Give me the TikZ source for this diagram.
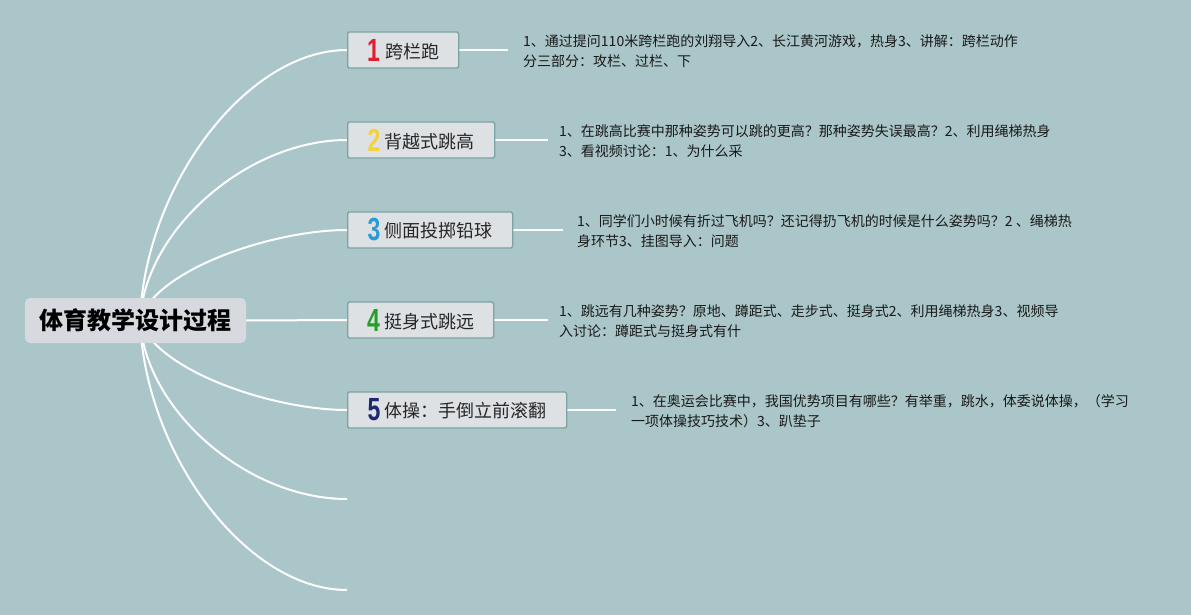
\documentclass[tikz,border=0pt]{standalone}
\usepackage{fontspec}
\usepackage{graphicx}
\setmainfont{Noto Sans CJK SC}
\newfontfamily\numfont{Liberation Sans}
\usetikzlibrary{backgrounds}
\definecolor{bgc}{RGB}{170,198,200}
\definecolor{boxfill}{RGB}{221,225,228}
\definecolor{boxline}{RGB}{123,163,163}
\definecolor{rootfill}{RGB}{214,218,223}
\definecolor{nred}{RGB}{224,30,48}
\definecolor{nyellow}{RGB}{245,210,58}
\definecolor{nblue}{RGB}{40,154,216}
\definecolor{ngreen}{RGB}{36,160,40}
\definecolor{nnavy}{RGB}{30,40,110}
\newcommand{\bnum}[2]{\raisebox{-3pt}{\textcolor{#1}{\scalebox{0.72}[1]{\fontsize{32}{32}\selectfont\numfont\bfseries #2}}}}
\tikzset{
  rootbox/.style={fill=rootfill, rounded corners=5pt, minimum width=221pt, minimum height=45pt, inner sep=0pt,
    font=\fontsize{24}{24}\selectfont\bfseries, text=black},
  topicbox/.style={fill=boxfill, draw=boxline, line width=1.3pt, rounded corners=1.5pt, minimum height=36pt,
    inner sep=0pt, anchor=west, font=\fontsize{18}{18}\selectfont, text=black!85},
  desc/.style={anchor=west, align=left, inner sep=0pt, font=\fontsize{14}{20}\selectfont, text=black!90},
  branch/.style={draw=white, line width=2pt},
  stub/.style={draw=white, line width=2pt}
}
\begin{document}
\begin{tikzpicture}[x=1pt,y=-1pt]
\useasboundingbox (0,0) rectangle (1191,615);
\node[rootbox] (root) at (135.5,320.5) {体育教学设计过程};
\coordinate (o) at (140,320);
\node[topicbox, minimum width=111pt] (b1) at (347,50) {\bnum{nred}{1}\hspace{5pt}跨栏跑};
\node[topicbox, minimum width=147pt] (b2) at (347,140) {\bnum{nyellow}{2}\hspace{4pt}背越式跳高};
\node[topicbox, minimum width=165pt] (b3) at (347,230) {\bnum{nblue}{3}\hspace{4pt}侧面投掷铅球};
\node[topicbox, minimum width=146pt] (b4) at (347,320) {\bnum{ngreen}{4}\hspace{4pt}挺身式跳远};
\node[topicbox, minimum width=219pt] (b5) at (347,410) {\bnum{nnavy}{5}\hspace{4pt}体操：手倒立前滚翻};
\coordinate (e6) at (347,499);
\coordinate (e7) at (347,590);
\coordinate (s1) at (508,50);
\coordinate (s2) at (548,140);
\coordinate (s3) at (563,230);
\coordinate (s4) at (548,320);
\coordinate (s5) at (616,410);
\node[desc] (d1) at (523,51) {1、通过提问110米跨栏跑的刘翔导入2、长江黄河游戏，热身3、讲解：跨栏动作\\分三部分：攻栏、过栏、下};
\node[desc] (d2) at (559,141) {1、在跳高比赛中那种姿势可以跳的更高？那种姿势失误最高？2、利用绳梯热身\\3、看视频讨论：1、为什么采};
\node[desc] (d3) at (577,231) {1、同学们小时候有折过飞机吗？还记得扔飞机的时候是什么姿势吗？2 、绳梯热\\身环节3、挂图导入：问题};
\node[desc] (d4) at (559,321) {1、跳远有几种姿势？原地、蹲距式、走步式、挺身式2、利用绳梯热身3、视频导\\入讨论：蹲距式与挺身式有什};
\node[desc] (d5) at (631,411) {1、在奥运会比赛中，我国优势项目有哪些？有举重，跳水，体委说体操，（学习\\一项体操技巧技术）3、趴垫子};
\begin{scope}[on background layer]
\fill[bgc] (0,0) rectangle (1191,615);
\draw[branch] (o) .. controls +(5,-135) and +(-100,0) .. (b1.west);
\draw[branch] (o) .. controls +(5,-90) and +(-100,0) .. (b2.west);
\draw[branch] (o) .. controls +(15,-50) and +(-75,0) .. (b3.west);
\draw[branch] (root.east) -- (b4.west);
\draw[branch] (o) .. controls +(15,50) and +(-75,0) .. (b5.west);
\draw[branch] (o) .. controls +(5,90) and +(-100,0) .. (e6);
\draw[branch] (o) .. controls +(5,135) and +(-100,0) .. (e7);
\draw[stub] (b1.east) -- (s1);
\draw[stub] (b2.east) -- (s2);
\draw[stub] (b3.east) -- (s3);
\draw[stub] (b4.east) -- (s4);
\draw[stub] (b5.east) -- (s5);
\end{scope}
\end{tikzpicture}
\end{document}
